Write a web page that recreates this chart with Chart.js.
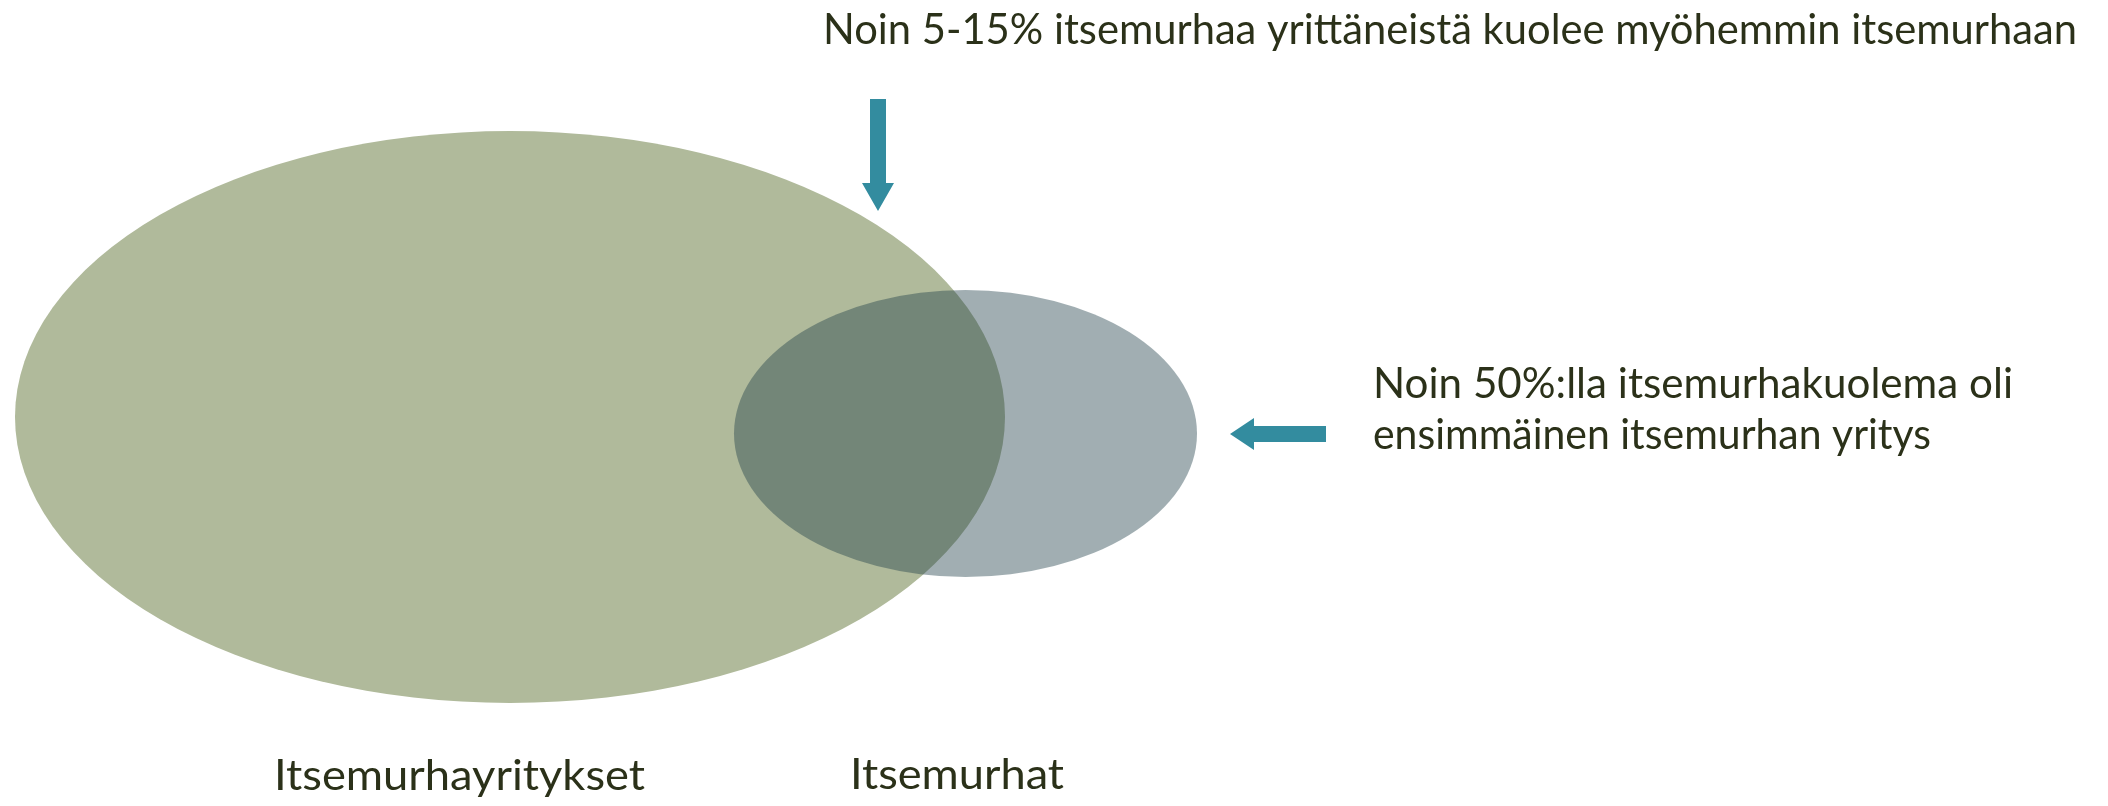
<!DOCTYPE html>
<html lang="fi">
<head>
<meta charset="UTF-8">
<meta name="viewport" content="width=device-width, initial-scale=1.0">
<title>Itsemurhayritykset ja itsemurhat</title>
<script src="https://cdn.jsdelivr.net/npm/chart.js"></script>
<style>
  body { margin: 0; background: #fff; }
  #wrap { width: 2108px; height: 806px; }
</style>
</head>
<body>
<div id="wrap"><canvas id="venn" width="2108" height="806"></canvas></div>
<script>
    // Joukot (ellipsit), kaavion yksiköissä
    const sets = ['Itsemurhayritykset', 'Itsemurhat'];
    const centerX = [510, 965.5];
    const centerY = [417, 433.5];
    const radiusX = [495, 231.5];
    const radiusY = [286, 143.5];

    // Nuolet: häntä -> kärki
    const arrowFromX = [878, 1326];
    const arrowFromY = [99, 434];
    const arrowToX = [878, 1230];
    const arrowToY = [211, 434];

    // Huomautukset
    const noteTop = 'Noin 5-15% itsemurhaa yrittäneistä kuolee myöhemmin itsemurhaan';
    const noteRight = ['Noin 50%:lla itsemurhakuolema oli', 'ensimmäinen itsemurhan yritys'];

    const setColors = ['#b0ba9b', 'rgba(30, 62, 72, 0.42)'];
    const arrowColor = '#338c9f';
    const textColor = '#2b3119';

    // tekstien paikat: x, perusviiva, leveys
    const textLayout = [
        { text: noteTop, x: 823, y: 44, w: 1254 },
        { text: noteRight[0], x: 1373, y: 398, w: 640 },
        { text: noteRight[1], x: 1373, y: 449, w: 558 },
        { text: sets[0], x: 274, y: 790, w: 371 },
        { text: sets[1], x: 850, y: 789, w: 214 }
    ];

    // piirretään ellipsit datasetin keskipisteen ympärille
    const vennPlugin = {
        id: 'venn',
        beforeDatasetsDraw(chart) {
            const ctx = chart.ctx;
            const xs = chart.scales.x, ys = chart.scales.y;
            sets.forEach((name, i) => {
                const pt = chart.getDatasetMeta(i).data[0];
                const rx = Math.abs(xs.getPixelForValue(centerX[i] + radiusX[i]) - pt.x);
                const ry = Math.abs(ys.getPixelForValue(centerY[i] + radiusY[i]) - pt.y);
                ctx.save();
                ctx.fillStyle = setColors[i];
                ctx.beginPath();
                ctx.ellipse(pt.x, pt.y, rx, ry, 0, 0, Math.PI * 2);
                ctx.fill();
                ctx.restore();
            });
        },
        afterDraw(chart) {
            const ctx = chart.ctx;
            const xs = chart.scales.x, ys = chart.scales.y;

            // nuolet
            for (let i = 0; i < arrowFromX.length; i++) {
                const x0 = xs.getPixelForValue(arrowFromX[i]), y0 = ys.getPixelForValue(arrowFromY[i]);
                const x1 = xs.getPixelForValue(arrowToX[i]), y1 = ys.getPixelForValue(arrowToY[i]);
                const len = Math.hypot(x1 - x0, y1 - y0);
                const head = i === 0 ? 28 : 24;
                ctx.save();
                ctx.translate(x0, y0);
                ctx.rotate(Math.atan2(y1 - y0, x1 - x0));
                ctx.fillStyle = arrowColor;
                ctx.beginPath();
                ctx.moveTo(0, -8);
                ctx.lineTo(len - head, -8);
                ctx.lineTo(len - head, -16);
                ctx.lineTo(len, 0);
                ctx.lineTo(len - head, 16);
                ctx.lineTo(len - head, 8);
                ctx.lineTo(0, 8);
                ctx.closePath();
                ctx.fill();
                ctx.restore();
            }

            // tekstit
            ctx.save();
            ctx.fillStyle = textColor;
            ctx.font = '42px Lato';
            ctx.textBaseline = 'alphabetic';
            textLayout.forEach(t => {
                const w = ctx.measureText(t.text).width;
                ctx.save();
                ctx.translate(t.x, t.y);
                ctx.scale(t.w / w, 1);
                ctx.fillText(t.text, 0, 0);
                ctx.restore();
            });
            ctx.restore();
        }
    };

    const ctx = document.getElementById('venn').getContext('2d');
    new Chart(ctx, {
        type: 'scatter',
        data: {
            datasets: sets.map((name, i) => ({
                label: name,
                data: [{ x: centerX[i], y: centerY[i] }],
                pointRadius: 0,
                backgroundColor: setColors[i]
            }))
        },
        options: {
            responsive: false,
            animation: false,
            layout: { padding: 0 },
            plugins: { legend: { display: false }, tooltip: { enabled: false } },
            scales: {
                x: { type: 'linear', min: 0, max: 2108, display: false },
                y: { type: 'linear', min: 0, max: 806, reverse: true, display: false }
            }
        },
        plugins: [vennPlugin]
    });
</script>
</body>
</html>
